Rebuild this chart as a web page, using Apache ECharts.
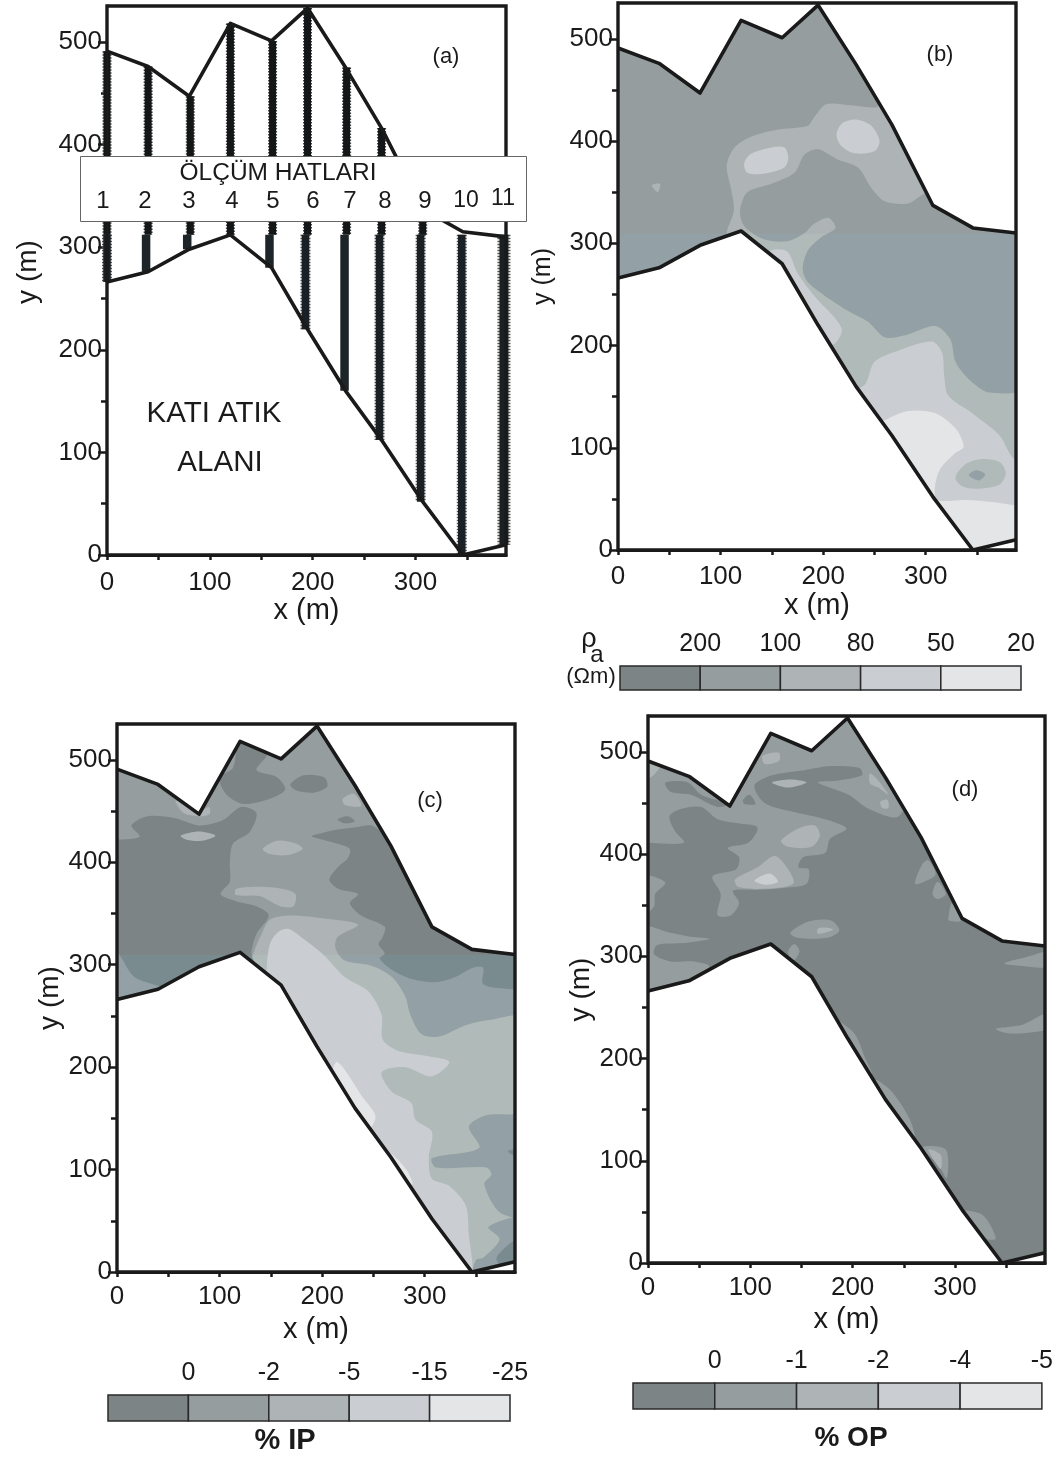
<!DOCTYPE html>
<html><head><meta charset="utf-8">
<script src="https://cdn.jsdelivr.net/npm/echarts@6/dist/echarts.min.js"></script>
<style>html,body{margin:0;padding:0;background:#fff}#c{width:1056px;height:1458px}</style>
</head><body><div id="c"></div>
<script>
// ---- site outline (m)
const boundaryTop=[[0,491],[40,476],[80,447],[120,518],[160,501],[195,533],[232,475],[267,416],[307,337],[346,315],[388,310]];
const boundaryBottom=[[0,266],[40,276],[80,298],[120,312],[160,280],[195,220],[232,160],[267,112],[307,52],[346,0],[388,10]];
// ---- survey lines of panel (a)
const hatNames=['1','2','3','4','5','6','7','8','9','10','11'];
const hatXUpper=[0,40,81,120,161,195,233,267,307];
const hatYTop=[491,476,447,518,501,533,475,416,337];
const hatXLower=[0,38,78,120,158,193,231,265,305,345,386];
const hatYBottom=[266,276,298,312,280,220,160,112,52,0,10];
const hatSolidLower=[1,2,4,6];
const hatSeam=312;
// ---- legends
const levelColors=['#7c8486','#959d9f','#aeb3b5','#cacdd1','#e4e5e7'];
const tintColors=['#7a8b90','#93a0a5','#b0bab8','#cacdd1','#e4e5e7'];
const legendB=['200','100','80','50','20'];
const legendC=['0','-2','-5','-15','-25'];
const legendD=['0','-1','-2','-4','-5'];
// ---- panel (b) contours
const b2Main=[[252,433],[227,435],[203,436],[191,423],[185,415],[155,411],[129,404],[113,393],[106,376],[110,354],[113,332],[106,310],[110,293],[130,260],[340,-5],[395,-5],[395,160],[395,320],[320,345],[260,440]];
const b1Inner=[[300,349],[283,339],[260,341],[247,354],[234,374],[214,382],[195,392],[182,387],[172,369],[149,358],[126,350],[119,332],[123,317],[142,304],[165,302],[182,310],[191,319],[205,325],[212,315],[198,306],[185,293],[180,275],[185,262],[201,249],[224,234],[244,223],[260,208],[280,210],[309,219],[324,206],[329,184],[342,167],[362,154],[395,160],[395,320],[312,345]];
const b3BlobA=[[123,378],[129,387],[146,393],[162,394],[166,384],[162,374],[142,368],[126,369]];
const b3BlobB=[[213,406],[218,417],[232,421],[247,415],[255,400],[250,390],[231,388],[218,395]];
const b3Strip=[[149,293],[165,292],[175,271],[191,249],[218,217],[209,201],[170,215],[140,280]];
const b3Lower=[[241,162],[250,184],[273,195],[306,204],[316,193],[318,171],[322,151],[345,134],[372,112],[385,90],[395,88],[395,-5],[340,-5],[225,150]];
const b4Lower=[[260,127],[283,136],[309,134],[329,119],[337,101],[329,95],[314,79],[309,62],[311,49],[339,49],[365,47],[386,44],[395,44],[395,-5],[340,-5],[250,120]];
const b2Ring=[[329,71],[339,84],[355,89],[372,86],[378,75],[372,64],[352,60],[336,62]];
const b1Eye=[[342,73],[349,78],[358,74],[352,68]];
const b2Speck=[[33,357],[41,358],[39,350],[36,352]];
// ---- panel (c) contours
const c2Lower=[[133,311],[141,330],[149,344],[169,348],[202,345],[235,339],[215,327],[213,316],[222,304],[248,299],[268,288],[281,269],[286,251],[297,232],[314,230],[340,241],[363,246],[395,247],[395,-5],[340,-5],[130,295]];
const c1Right=[[386,154],[360,153],[343,142],[353,121],[307,111],[311,102],[360,102],[365,95],[358,86],[371,60],[386,53],[395,53],[395,157]];
const c1Foot=[[362,44],[395,52],[395,-5],[347,-5],[350,12],[357,14],[373,32]];
const c1Vertex=[[337,23],[343,14],[347,-2],[335,-2]];
const c0Foot=[[370,14],[386,30],[395,32],[395,5],[375,5]];
const c0Edge=[[381,118],[386,114],[395,110],[395,120]];
const c0West=[[0,422],[22,425],[14,436],[30,445],[57,443],[80,436],[103,441],[121,454],[136,448],[129,429],[113,418],[110,399],[110,381],[101,369],[116,362],[136,357],[148,348],[136,330],[131,311],[134,297],[60,270],[41,279],[17,288],[0,313],[-5,313],[-5,422]];
const c0Crown=[[120,520],[146,506],[136,490],[156,483],[164,471],[149,462],[123,457],[106,467],[100,483],[113,492]];
const c0Lens=[[169,476],[182,485],[202,483],[205,474],[192,468],[175,470]];
const c0East=[[190,426],[215,432],[231,434],[248,436],[258,430],[275,420],[320,345],[395,320],[395,276],[386,276],[357,281],[357,297],[347,297],[330,288],[311,283],[287,286],[268,295],[256,306],[261,311],[255,320],[259,327],[261,337],[238,348],[227,360],[235,369],[216,374],[207,383],[217,397],[225,404],[227,413],[215,418],[190,425]];
const c3Strip=[[149,320],[157,332],[167,335],[182,325],[202,309],[222,288],[245,274],[258,251],[259,227],[274,216],[301,211],[324,205],[307,191],[281,200],[258,195],[268,176],[287,165],[291,149],[307,137],[304,111],[307,91],[324,84],[340,65],[343,37],[347,2],[345,-5],[150,260],[146,295]];
const c4SliverA=[[215,205],[240,170],[252,152],[245,140],[210,190]];
const c4SliverB=[[268,115],[282,100],[288,86],[280,85],[262,115]];
const c2PatchA=[[57,460],[70,455],[80,450],[90,454],[90,447],[80,445],[65,448]];
const c2PatchB=[[62,426],[80,430],[96,426],[83,421],[68,422]];
const c2PatchC=[[142,413],[156,421],[175,418],[181,413],[166,407],[149,408]];
const c2PatchD=[[116,374],[139,376],[162,374],[174,369],[172,357],[159,357],[139,367],[116,368]];
const c2PatchE=[[220,462],[231,467],[238,455],[222,456]];
const c0Dash=[[215,442],[225,445],[232,440],[222,438]];
// ---- panel (d) contours
const d1Top=[[-2,411],[35,411],[26,423],[21,437],[32,444],[52,446],[68,434],[88,430],[107,426],[98,411],[78,406],[89,397],[86,385],[63,378],[71,361],[68,340],[81,340],[89,352],[83,364],[107,365],[134,367],[155,371],[157,385],[147,387],[152,397],[173,401],[178,415],[194,425],[173,434],[143,441],[114,450],[104,467],[121,477],[153,482],[179,486],[207,484],[209,477],[186,472],[166,470],[196,458],[216,444],[245,437],[260,480],[200,545],[100,545],[-5,545],[-5,411]];
const d0Band=[[17,470],[39,470],[52,458],[78,449],[68,446],[42,458],[22,461]];
const d0Nick=[[93,453],[99,458],[105,449],[94,449]];
const d1WestA=[[-3,378],[17,372],[7,361],[6,349],[-3,342]];
const d1WestB=[[-5,328],[22,323],[42,319],[60,317],[35,313],[9,311],[6,302],[22,295],[45,295],[60,290],[38,276],[30,260],[-5,255]];
const d1BlobA=[[139,323],[157,334],[179,335],[187,325],[175,318],[146,318]];
const d1BlobB=[[137,305],[143,312],[148,305],[142,295],[139,297]];
const d1EastA=[[348,293],[369,299],[395,305],[395,290],[360,291]];
const d1EastB=[[340,229],[366,233],[386,243],[395,243],[395,230],[369,225],[350,225]];
const d1RimA=[[261,371],[268,390],[274,394],[281,380],[270,373]];
const d1RimB=[[278,361],[283,373],[291,361],[283,356]];
const d1RimC=[[294,340],[297,352],[306,335],[294,335]];
const d1SliverA=[[186,236],[202,224],[212,201],[219,184],[212,184],[196,215]];
const d1SliverB=[[222,179],[238,168],[255,142],[261,123],[255,125],[232,158]];
const d1SliverC=[[268,113],[291,111],[292,83],[283,97]];
const d1SliverD=[[307,50],[327,47],[340,24],[330,24]];
const d2BlobA=[[130,413],[147,425],[163,428],[168,418],[160,407],[137,407]];
const d2BlobB=[[85,375],[107,387],[124,398],[137,385],[142,371],[114,366],[88,368]];
const d2RimA=[[217,479],[225,472],[235,458],[225,465],[217,469]];
const d2RimB=[[227,451],[234,453],[235,445],[229,445]];
const d2BlobC=[[121,470],[140,473],[155,470],[137,465]];
const d2BlobD=[[112,496],[128,499],[128,491],[114,488]];
const d2BlobE=[[166,327],[175,328],[181,326],[166,322]];
const d2Corner=[[-3,490],[12,487],[3,475],[-3,475]];
const d2Sliver=[[274,111],[286,106],[286,92]];
const d3Core=[[104,374],[119,381],[127,373],[114,370]];

const XMAX=388,YMAX=535,SEAM=310;
const everywhere=[[-5,-5],[395,-5],[395,545],[-5,545]];
const layersB=[[1,everywhere],[2,b2Main],[1,b1Inner],[3,b3BlobA],[3,b3BlobB],[3,b3Strip],[3,b3Lower],[4,b4Lower],[2,b2Ring],[1,b1Eye],[2,b2Speck]];
const layersC=[[1,everywhere],[2,c2Lower],[1,c1Right],[1,c1Foot],[1,c1Vertex],[0,c0Foot],[0,c0Edge],[0,c0West],[0,c0Crown],[0,c0Lens],[0,c0East],[3,c3Strip],[4,c4SliverA],[4,c4SliverB],[2,c2PatchA],[2,c2PatchB],[2,c2PatchC],[2,c2PatchD],[2,c2PatchE],[0,c0Dash]];
const layersD=[[0,everywhere],[1,d1Top],[0,d0Band],[0,d0Nick],[1,d1WestA],[1,d1WestB],[1,d1BlobA],[1,d1BlobB],[1,d1EastA],[1,d1EastB],[1,d1RimA],[1,d1RimB],[1,d1RimC],[1,d1SliverA],[1,d1SliverB],[1,d1SliverC],[1,d1SliverD],[2,d2BlobA],[2,d2BlobB],[2,d2RimA],[2,d2RimB],[2,d2BlobC],[2,d2BlobD],[2,d2BlobE],[2,d2Corner],[2,d2Sliver],[3,d3Core]];

const FONT='"Liberation Sans",Arial,sans-serif', INK='#1a1a1a';
const panels=[
 {left:107,top:6,w:399,h:549,yGap:65,xGap:40,xMargin:15,font:26},
 {left:618,top:3,w:398,h:547,yGap:62,xGap:41,xMargin:14,font:26},
 {left:117,top:724,w:398,h:548,yGap:48,xGap:43,xMargin:12,font:26},
 {left:648,top:716,w:397,h:547,yGap:48,xGap:42,xMargin:12,font:26}];
const legends=[
 {left:620,top:666,w:401,h:24,labels:legendB,margin:9},
 {left:108,top:1395,w:402,h:26,labels:legendC,margin:9},
 {left:633,top:1383,w:410,h:26,labels:legendD,margin:9}];

const grid=[],xAxis=[],yAxis=[],series=[];
const tickVals=(a,b,s)=>{const r=[];for(let v=a;v<=b;v+=s)r.push(v);return r;};
panels.forEach((p,i)=>{
 grid.push({left:p.left,top:p.top,width:p.w,height:p.h});
 xAxis.push({type:'value',gridIndex:i,min:0,max:XMAX,position:'bottom',name:'x (m)',nameLocation:'middle',nameGap:p.xGap,
  nameTextStyle:{fontFamily:FONT,fontSize:29,color:INK},
  splitLine:{show:false},axisLine:{show:true,onZero:false,lineStyle:{color:INK,width:3}},
  axisTick:{show:true,length:5,customValues:tickVals(0,350,50),lineStyle:{color:INK,width:2.5}},
  axisLabel:{fontFamily:FONT,fontSize:p.font,color:INK,margin:p.xMargin,customValues:[0,100,200,300]}});
});
panels.forEach((p,i)=>{
 yAxis.push({type:'value',gridIndex:i,min:0,max:YMAX,position:'left',name:i==0?'':'y (m)',nameLocation:'middle',nameGap:p.yGap,
  nameTextStyle:{fontFamily:FONT,fontSize:i==1?25:28,color:INK},
  splitLine:{show:false},axisLine:{show:true,onZero:false,lineStyle:{color:INK,width:3}},
  axisTick:{show:true,length:9,customValues:tickVals(0,500,100),lineStyle:{color:INK,width:2.5}},
  axisLabel:{fontFamily:FONT,fontSize:p.font,color:INK,margin:5,customValues:tickVals(0,500,100)}});
 yAxis.push({type:'value',gridIndex:i,min:0,max:YMAX,position:'left',
  splitLine:{show:false},axisLine:{show:false},axisLabel:{show:false},
  axisTick:{show:true,length:6,customValues:tickVals(50,450,100),lineStyle:{color:INK,width:2.5}}});
});
legends.forEach((l,k)=>{
 const g=panels.length+k;
 grid.push({left:l.left,top:l.top,width:l.w,height:l.h});
 xAxis.push({type:'value',gridIndex:g,min:0,max:5,interval:1,position:'top',splitLine:{show:false},axisLine:{show:false},axisTick:{show:false},
  axisLabel:{fontFamily:FONT,fontSize:25,color:INK,margin:l.margin,showMinLabel:false,formatter:v=>l.labels[v-1]||''}});
 yAxis.push({type:'value',gridIndex:g,min:0,max:1,show:false});
 series.push({type:'custom',xAxisIndex:g,yAxisIndex:yAxis.length-1,silent:true,
  data:levelColors.map((_,j)=>[j,0]),
  renderItem:(p,api)=>{const j=p.dataIndex,a=api.coord([j,1]),b=api.coord([j+1,0]);
   return {type:'rect',shape:{x:a[0],y:a[1],width:b[0]-a[0],height:b[1]-a[1]},style:{fill:levelColors[j],stroke:'#2a2a2a',lineWidth:1.5}};}});
});
function fillFor(level,seam,tint){
 if(!tint||tintColors[level]===levelColors[level])return levelColors[level];
 return {type:'linear',global:true,x:0,y:seam,x2:0,y2:seam+1,colorStops:[{offset:0,color:levelColors[level]},{offset:1,color:tintColors[level]}]};
}
function contourSeries(i,layers,tint){
 return {type:'custom',xAxisIndex:i,yAxisIndex:i*2,clip:true,silent:true,z:2,data:layers.map((_,j)=>[j,0]),
  renderItem:(p,api)=>{const [lvl,pts]=layers[p.dataIndex];
   return {type:'polygon',shape:{points:pts.map(q=>api.coord(q)),smooth:pts===everywhere?0:0.3},
    style:{fill:fillFor(lvl,api.coord([0,SEAM])[1],tint)}};}};
}
const maskTop=[[-10,545],...boundaryTop,[398,310],[398,545]];
const maskBottom=[[-10,-10],[-10,266],...boundaryBottom,[398,10],[398,-10]];
function outlineSeries(i){
 const out=[];
 out.push({type:'custom',xAxisIndex:i,yAxisIndex:i*2,clip:true,silent:true,z:3,data:[[0,0],[1,0]],
  renderItem:(p,api)=>({type:'polygon',shape:{points:(p.dataIndex?maskBottom:maskTop).map(q=>api.coord(q))},style:{fill:'#fff'}})});
 [boundaryTop,boundaryBottom].forEach(b=>out.push({type:'line',xAxisIndex:i,yAxisIndex:i*2,z:6,silent:true,showSymbol:false,clip:false,
  data:b,lineStyle:{color:INK,width:3.6,join:'round'}}));
 out.push({type:'custom',xAxisIndex:i,yAxisIndex:i*2,z:7,clip:false,silent:true,data:[[0,0]],
  renderItem:(p,api)=>{const a=api.coord([0,YMAX]),b=api.coord([XMAX,0]);
   return {type:'rect',shape:{x:a[0],y:a[1],width:b[0]-a[0],height:b[1]-a[1]},style:{fill:'none',stroke:INK,lineWidth:3.4}};}});
 return out;
}
// panel (a): survey lines
function hatSeries(data,width,color,dash){
 return {type:'line',xAxisIndex:0,yAxisIndex:0,z:dash?4:5,silent:true,showSymbol:false,clip:false,data,
  lineStyle:{color,width,type:dash?[1.5,1.5]:'solid',cap:'butt'}};
}
hatXUpper.forEach((x,j)=>{
 const d=[[x,hatYTop[j]],[x,hatSeam]];
 series.push(hatSeries(d,9,'#444',true),hatSeries(d,7,'#141718',false));
});
hatXLower.forEach((x,j)=>{
 const d=[[x,hatSeam],[x,hatYBottom[j]]];
 if(hatSolidLower.includes(j)) series.push(hatSeries(d,8.5,'#1e2528',false));
 else series.push(hatSeries(d,j==10?13:10,'#555',true),hatSeries(d,j==10?9:7.5,'#1a2023',false));
});
series.push(...outlineSeries(0));
[[1,layersB,true],[2,layersC,true],[3,layersD,false]].forEach(([i,l,t])=>{
 series.push(contourSeries(i,l,t),...outlineSeries(i));
});
const hatLabelPx=[103,145,189,232,273,313,350,385,425,466,503];
const txt=(text,x,y,size,extra)=>({type:'text',z:50,x,y,style:Object.assign({text,fontFamily:FONT,fontSize:size,fill:INK,align:'center',verticalAlign:'middle'},extra||{})});
const graphic=[
 {type:'rect',z:40,shape:{x:80.5,y:156.5,width:446,height:65},style:{fill:'#fff',stroke:'#666',lineWidth:1}},
 txt('ÖLÇÜM HATLARI',278,173,24.5),
 ...hatNames.map((n,i)=>txt(n,hatLabelPx[i],i==10?199:201,i>=9?23:24)),
 txt('(a)',446,57,22),txt('(b)',940,55,22),txt('(c)',430,801,22),txt('(d)',965,790,22),
 txt('KATI ATIK',214,414,29.5),txt('ALANI',220,463,29.5),
 {type:'text',z:50,x:28,y:272,rotation:Math.PI/2,style:{text:'y (m)',fontFamily:FONT,fontSize:28,fill:INK,align:'center',verticalAlign:'middle'}},
 txt('ρ',589,640,27),txt('a',597,655,24),txt('(Ωm)',591,677,22),
 txt('% IP',285,1441,29,{fontWeight:'bold'}),txt('% OP',851,1438,28,{fontWeight:'bold'})
];
const chart=echarts.init(document.getElementById('c'),null,{renderer:'canvas'});
chart.setOption({animation:false,backgroundColor:'#fff',grid,xAxis,yAxis,series,graphic});
</script></body></html>
